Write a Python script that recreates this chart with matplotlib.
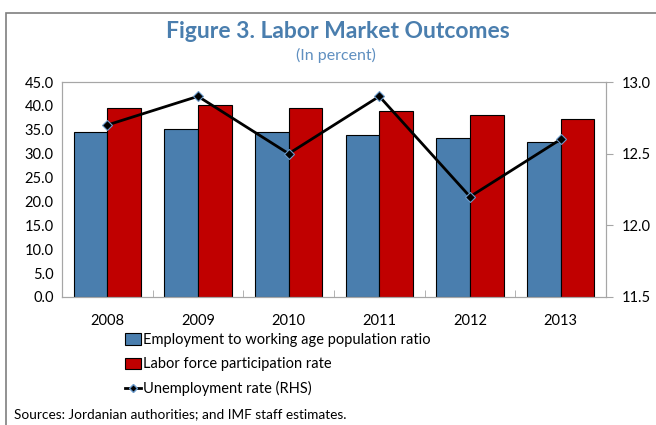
import numpy as np
import matplotlib
matplotlib.use("Agg")
import matplotlib.pyplot as plt
from matplotlib.patches import Rectangle
from matplotlib.lines import Line2D

plt.rcParams["font.family"] = ["Lato", "DejaVu Sans"]

years = ["2008", "2009", "2010", "2011", "2012", "2013"]
employment = [34.6, 35.1, 34.5, 34.0, 33.3, 32.5]
participation = [39.5, 40.1, 39.5, 39.0, 38.0, 37.2]
unemployment = [12.7, 12.9, 12.5, 12.9, 12.2, 12.6]

BLUE = "#4A7EAE"; RED = "#C00000"; TITLE = "#4A7EAE"; GREY = "#A6A6A6"

fig = plt.figure(figsize=(6.56, 4.25), dpi=100)
ax = fig.add_axes([62/656, 1-297/425, 544/656, 215/425])
x = np.arange(len(years)); w = 0.37
ax.bar(x - w/2, employment, w, color=BLUE, edgecolor="black", lw=0.8, zorder=2)
ax.bar(x + w/2, participation, w, color=RED, edgecolor="black", lw=0.8, zorder=2)
ax.set_xlim(-0.5, 5.5); ax.set_ylim(0, 45)
ax.set_yticks(np.arange(0, 45.1, 5)); ax.set_yticklabels([f"{v:.1f}" for v in np.arange(0, 45.1, 5)], fontsize=10.5)
ax.set_xticks(x); ax.set_xticklabels(years, fontsize=10.5)
ax.set_xticks(np.arange(0.5, 5, 1), minor=True)
ax.tick_params(axis="x", which="major", length=0, pad=12)
ax.tick_params(axis="x", which="minor", direction="in", length=5, color=GREY)
ax.tick_params(axis="y", length=0, pad=6)
for s in ax.spines.values():
    s.set_color(GREY)

ax2 = ax.twinx()
ax2.plot(x, unemployment, color="black", lw=2, marker="D", ms=5, mfc="black", mec="#6A9ACB", mew=0.8, zorder=5)
ax2.set_ylim(11.5, 13.0)
ax2.set_yticks([11.5, 12.0, 12.5, 13.0]); ax2.set_yticklabels(["11.5", "12.0", "12.5", "13.0"], fontsize=10.5)
ax2.tick_params(axis="y", direction="out", length=5, color=GREY, pad=6)
for s in ax2.spines.values():
    s.set_color(GREY)

fig.text(338/656, 1-32/425, "Figure 3. Labor Market Outcomes", ha="center", va="center",
         fontsize=16.5, fontweight="bold", color=TITLE)
fig.text(336/656, 1-55/425, "(In percent)", ha="center", va="center", fontsize=11.5, color="#5F8FC0")

handles = [Rectangle((0, 0), 1, 1, fc=BLUE, ec="black", lw=0.8),
           Rectangle((0, 0), 1, 1, fc=RED, ec="black", lw=0.8),
           Line2D([], [], color="black", lw=2, marker="D", ms=4, mfc="black", mec="#6A9ACB")]
labels = ["Employment to working age population ratio", "Labor force participation rate",
          "Unemployment rate (RHS)"]
fig.legend(handles, labels, loc="upper left", bbox_to_anchor=(125/656, 1-333/425), frameon=False,
           fontsize=10.5, handlelength=1.1, handleheight=0.8, handletextpad=0.15, labelspacing=0.7,
           borderaxespad=0, borderpad=0)

fig.text(14/656, 1-414/425, "Sources: Jordanian authorities; and IMF staff estimates.", ha="left",
         va="center", fontsize=9.8, color="black")

fig.add_artist(Rectangle((6/656, -0.1), 2, 1 - 13/425 + 0.1, transform=fig.transFigure,
                         fill=False, ec="#7F7F7F", lw=1.2))

fig.savefig("out.png", dpi=100)
